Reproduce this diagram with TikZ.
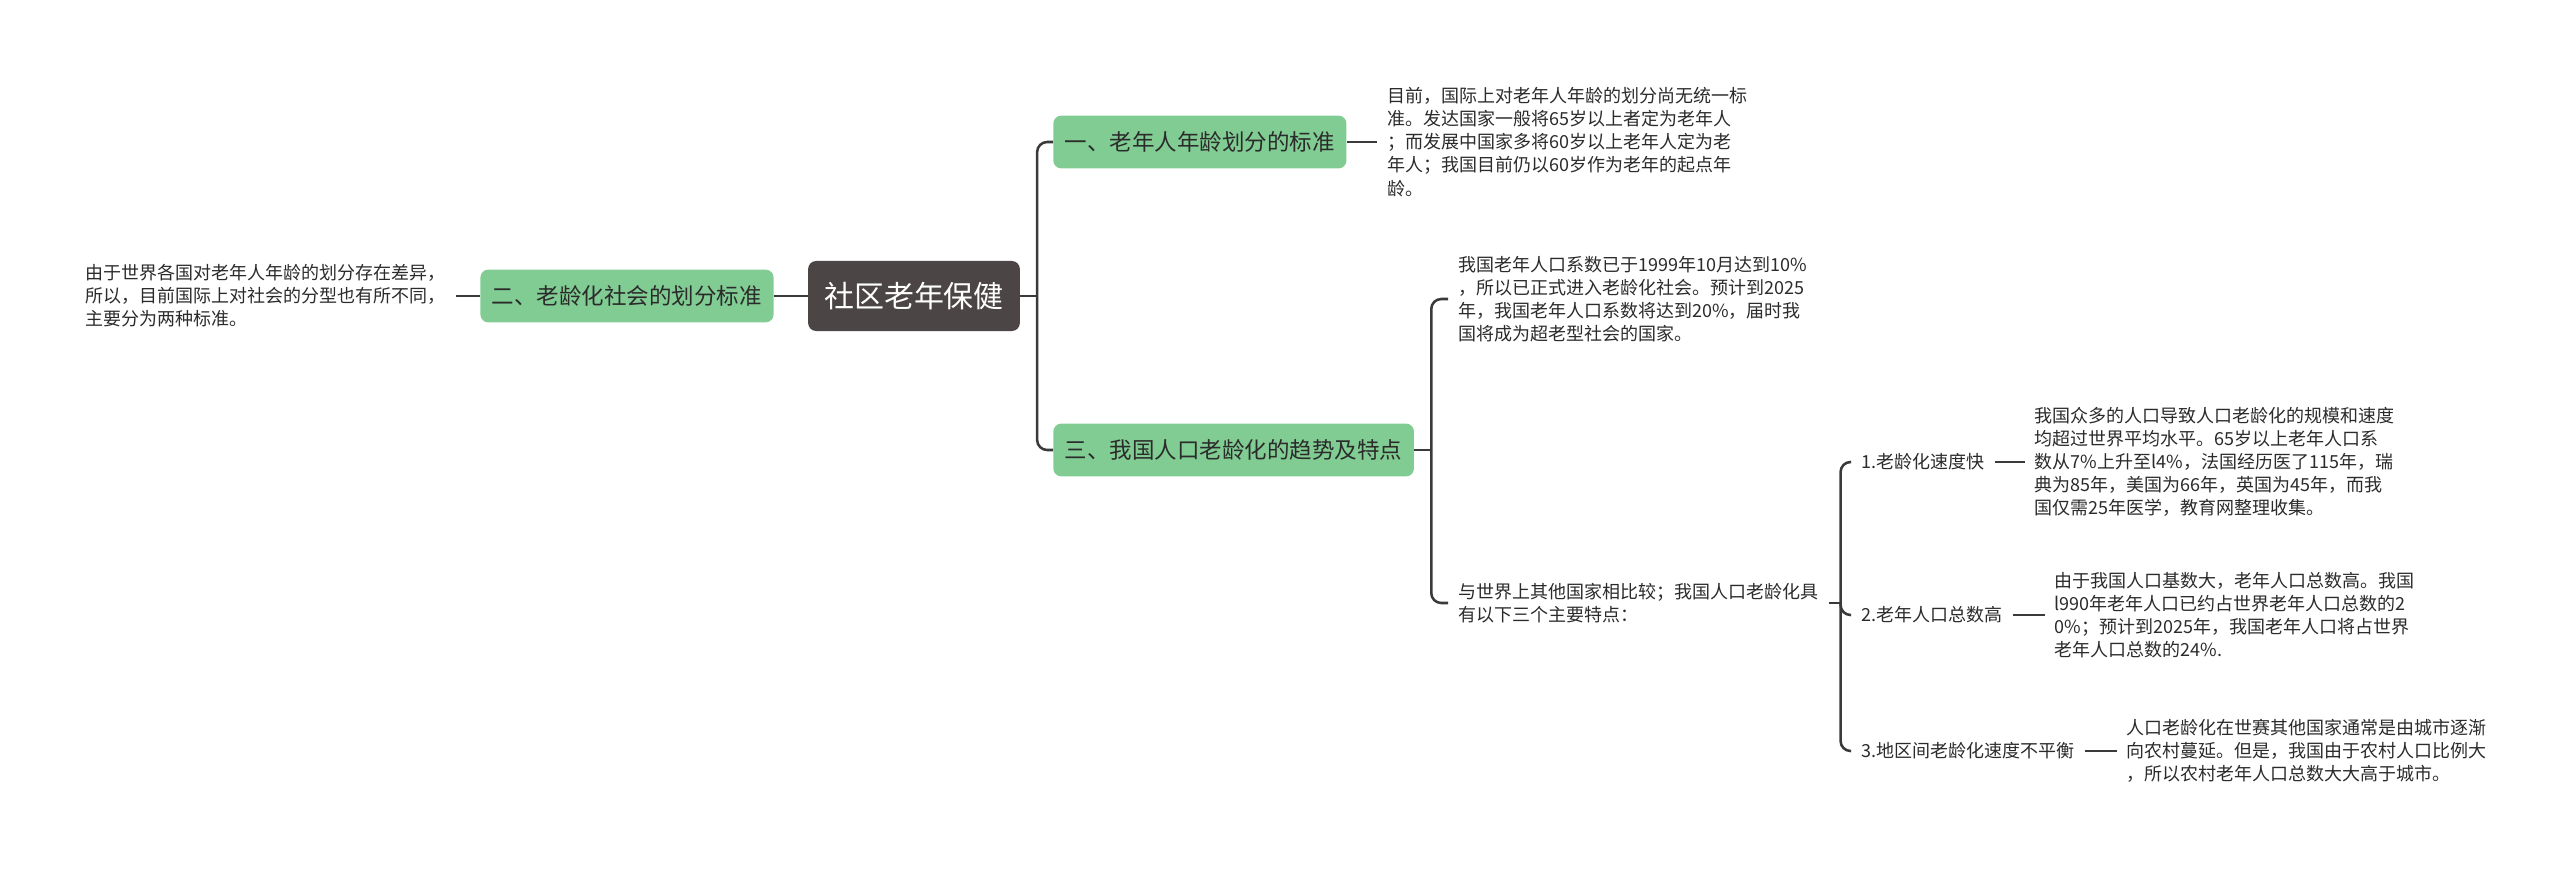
\documentclass[tikz,border=0pt]{standalone}
\usepackage{fontspec}
\setmainfont{Noto Sans CJK SC}
\usetikzlibrary{positioning}

\definecolor{topicgreen}{HTML}{80CC93}
\definecolor{rootgray}{HTML}{4B4545}
\definecolor{linegray}{HTML}{3A3A3A}
\definecolor{textgray}{HTML}{2B2B2B}

\begin{document}
\begin{tikzpicture}[
			x=0.025cm, y=-0.025cm,
			rootbox/.style={fill=rootgray, rounded corners=0.2cm, text=white, minimum height=1.75cm, inner xsep=0.4cm, font=\fontsize{21.3pt}{24pt}\selectfont},
			topicbox/.style={fill=topicgreen, rounded corners=0.2cm, text=textgray, minimum height=1.32cm, inner xsep=0.29cm, font=\fontsize{16pt}{19pt}\selectfont},
			leaf/.style={align=left, text=textgray, inner xsep=0.25cm, inner ysep=0pt, font=\fontsize{12.8pt}{16.4pt}\selectfont},
			link/.style={draw=linegray, line width=1.8pt, rounded corners=0.25cm},
			node distance=0.8cm
			]
			\useasboundingbox (0,0) rectangle (2560,869);
			
			% --- Root ---
			\node[rootbox] (root) at (914,296) {社区老年保健};
			
			% --- Left branch ---
			\node[topicbox, left=0.85cm of root] (std2) {二、老龄化社会的划分标准};
			\node[leaf, left=0.6cm of std2] (std2txt) {由于世界各国对老年人年龄的划分存在差异，\\所以，目前国际上对社会的分型也有所不同，\\主要分为两种标准。};
			
			% --- Right branches ---
			\node[topicbox, anchor=west] (std1) at (1053,142) {一、老年人年龄划分的标准};
			\node[leaf, right=0.75cm of std1] (std1txt) {目前，国际上对老年人年龄的划分尚无统一标\\准。发达国家一般将65岁以上者定为老年人\\；而发展中国家多将60岁以上老年人定为老\\年人；我国目前仍以60岁作为老年的起点年\\龄。};
			
			\node[topicbox, anchor=west] (trend) at (1053,450) {三、我国人口老龄化的趋势及特点};
			\node[leaf, anchor=west] (trendA) at (1448,299) {我国老年人口系数已于1999年10月达到10\%\\，所以已正式进入老龄化社会。预计到2025\\年，我国老年人口系数将达到20\%，届时我\\国将成为超老型社会的国家。};
			\node[leaf, anchor=west] (trendB) at (1448,603) {与世界上其他国家相比较；我国人口老龄化具\\有以下三个主要特点：};
			
			% --- Three features ---
			\node[leaf, anchor=west] (feat1) at (1851,462) {1.老龄化速度快};
			\node[leaf, anchor=west] (feat2) at (1851,615) {2.老年人口总数高};
			\node[leaf, anchor=west] (feat3) at (1851,751) {3.地区间老龄化速度不平衡};
			
			\node[leaf, right=0.75cm of feat1] (feat1txt) {我国众多的人口导致人口老龄化的规模和速度\\均超过世界平均水平。65岁以上老年人口系\\数从7\%上升至l4\%，法国经历医了115年，瑞\\典为85年，美国为66年，英国为45年，而我\\国仅需25年医学，教育网整理收集。};
			\node[leaf, right=0.8cm of feat2] (feat2txt) {由于我国人口基数大，老年人口总数高。我国\\l990年老年人口已约占世界老年人口总数的2\\0\%；预计到2025年，我国老年人口将占世界\\老年人口总数的24\%.};
			\node[leaf, right=0.8cm of feat3] (feat3txt) {人口老龄化在世赛其他国家通常是由城市逐渐\\向农村蔓延。但是，我国由于农村人口比例大\\，所以农村老年人口总数大大高于城市。};
			
			% --- Connectors ---
			\draw[link] (std2txt.east) -- (std2.west);
			\draw[link] (std2.east) -- (root.west);
			
			\draw[link] (root.east) -- ++(17,0) coordinate (rootfork);
			\draw[link] (rootfork) |- (std1.west);
			\draw[link] (rootfork) |- (trend.west);
			\draw[link] (std1.east) -- (std1txt.west);
			
			\draw[link] (trend.east) -- ++(17,0) coordinate (trendfork);
			\draw[link] (trendfork) |- (trendA.west);
			\draw[link] (trendfork) |- (trendB.west);
			
			\draw[link] (trendB.east) -- ++(12,0) coordinate (featfork);
			\foreach \f in {feat1,feat2,feat3}
				\draw[link] (featfork) |- (\f.west);
			\foreach \f in {feat1,feat2,feat3}
				\draw[link] (\f.east) -- (\f txt.west);
			
	\end{tikzpicture}
\end{document}
